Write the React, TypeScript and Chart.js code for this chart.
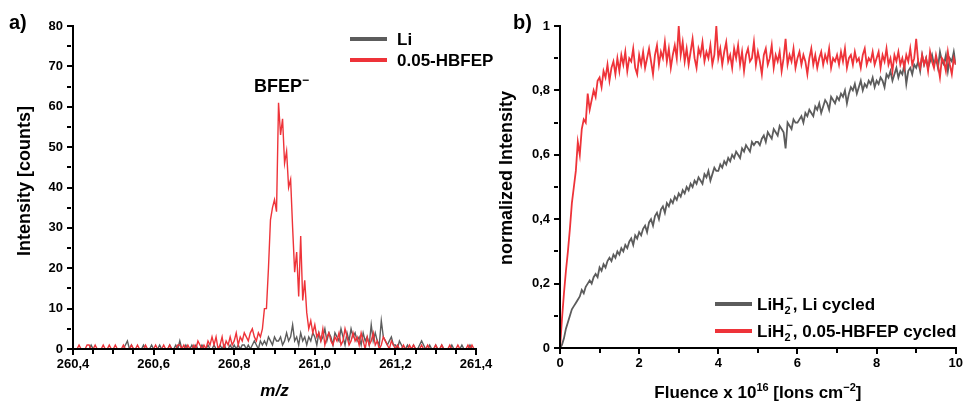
import React, { useEffect, useRef } from 'react';
import { Chart, registerables } from 'chart.js';

Chart.register(...registerables);

const FONT = '"Liberation Sans", Arial, Helvetica, sans-serif';
const RED = '#ee3339';
const GRAY = '#5c5c5c';

// ---------- Panel a) : mass spectrum ----------
const MZ_START = 260.4;
const MZ_STEP = 0.005;

const hbfepCounts = [
  0, 0, 0, 1, 0, 0, 0, 1, 1, 0, 0, 1, 0, 0, 0, 1, 0, 0, 1, 0,
  0, 1, 0, 0, 0, 1, 0, 0, 0, 1, 0, 0, 1, 0, 0, 0, 1, 0, 0, 0,
  0, 1, 0, 0, 0, 1, 0, 0, 1, 0, 0, 0, 1, 1, 0, 1, 0, 1, 0, 0,
  1, 0, 2, 1, 0, 1, 0, 2, 1, 3, 1, 3, 0, 1, 3, 0, 2, 1, 3, 1,
  2, 4, 1, 3, 2, 4, 3, 2, 4, 5, 3, 2, 4, 3, 5,
  10, 10, 20, 32, 35, 37, 34, 61, 53, 57, 46, 49, 40, 42, 30, 19, 24, 13, 28, 12, 17, 9, 5, 7, 4,
  6, 3, 4, 2, 5, 1, 3, 4, 2, 1, 3, 2, 4, 1, 2, 5, 3, 1, 2, 4,
  2, 3, 1, 4, 2, 0, 3, 1, 2, 4, 1, 2, 0, 1, 3, 2, 1, 0, 2, 1,
  0, 1, 0, 0, 1, 0, 0, 1, 0, 1, 0, 0, 0, 1, 0, 0, 1, 0, 0, 0,
  1, 0, 0, 1, 0, 0, 0, 1, 0, 0, 0, 1, 0, 0, 0, 0, 1, 0, 1, 0, 0,
];

const liCounts = [
  0, 0, 0, 0, 0, 0, 0, 0, 0, 1, 0, 0, 0, 0, 0, 0, 0, 0, 0, 0,
  0, 0, 0, 0, 0, 0, 1, 2, 0, 1, 0, 0, 0, 0, 0, 1, 0, 0, 0, 1,
  0, 0, 0, 1, 0, 0, 0, 0, 1, 0, 0, 1, 0, 2, 0, 0, 1, 0, 0, 1,
  0, 1, 0, 0, 1, 0, 0, 1, 0, 0, 1, 0, 0, 1, 0, 1, 0, 0, 1, 0,
  1, 0, 1, 0, 1, 1, 0, 1, 0, 1, 2, 1, 0, 2, 1,
  2, 1, 3, 2, 1, 3, 2, 2, 3, 1, 2, 4, 2, 3, 6, 2, 3, 1, 4, 2, 3, 1, 3, 2, 4,
  3, 1, 4, 2, 3, 5, 2, 4, 3, 1, 4, 3, 2, 5, 3, 1, 4, 2, 5, 3,
  4, 2, 3, 1, 4, 2, 3, 1, 6, 2, 4, 2, 1, 7, 3, 2, 1, 2, 3, 1,
  1, 0, 2, 1, 0, 0, 1, 0, 0, 1, 0, 0, 1, 2, 1, 0, 0, 1, 0, 0,
  1, 0, 0, 1, 0, 0, 0, 0, 1, 0, 0, 0, 0, 1, 0, 0, 0, 1, 0, 0, 0,
];

// ---------- Panel b) : fluence dependence ----------
const FL_START = 0;
const FL_STEP = 0.05;

const hbfepCycled = [
  0, 0.09, 0.17, 0.24, 0.30, 0.37, 0.45, 0.50, 0.55, 0.64, 0.60, 0.68, 0.71, 0.70, 0.79, 0.74, 0.77, 0.80, 0.78, 0.83,
  0.84, 0.81, 0.86, 0.84, 0.88, 0.83, 0.87, 0.89, 0.85, 0.90, 0.86, 0.91, 0.88, 0.92, 0.86, 0.90, 0.89, 0.93, 0.87, 0.85,
  0.91, 0.88, 0.92, 0.87, 0.90, 0.93, 0.89, 0.85, 0.91, 0.94, 0.88, 0.92, 0.90, 0.95, 0.89, 0.93, 0.87, 0.91, 0.94, 0.90,
  1.00, 0.91, 0.95, 0.89, 0.93, 0.88, 0.92, 0.96, 0.90, 0.87, 0.93, 0.91, 0.95, 0.89, 0.92, 0.90, 0.94, 0.88, 0.91, 1.00,
  0.90, 0.93, 0.88, 0.92, 0.95, 0.89, 0.91, 0.87, 0.93, 0.90, 0.94, 0.88, 0.92, 0.86, 0.91, 0.93, 0.89, 0.90, 0.95, 0.88,
  0.92, 0.89, 0.85, 0.91, 0.93, 0.88, 0.90, 0.94, 0.87, 0.91, 0.89, 0.92, 0.86, 0.90, 0.96, 0.88, 0.91, 0.89, 0.93, 0.87,
  0.90, 0.92, 0.88, 0.91, 0.89, 0.85, 0.90, 0.93, 0.88, 0.91, 0.87, 0.90, 0.92, 0.88, 0.91, 0.89, 0.93, 0.87, 0.90, 0.89,
  0.91, 0.88, 0.92, 0.89, 0.93, 0.87, 0.90, 0.91, 0.88, 0.92, 0.89, 0.90, 0.87, 0.91, 0.93, 0.88, 0.90, 0.89, 0.92, 0.88,
  0.90, 0.92, 0.87, 0.91, 0.89, 0.93, 0.88, 0.90, 0.86, 0.91, 0.89, 0.92, 0.88, 0.90, 0.87, 0.91, 0.89, 0.93, 0.88, 0.90,
  0.96, 0.89, 0.87, 0.91, 0.88, 0.90, 0.86, 0.92, 0.89, 0.87, 0.91, 0.88, 0.84, 0.90, 0.89, 0.86, 0.92, 0.88, 0.85, 0.90, 0.88,
];

const liCycled = [
  0, 0.01, 0.03, 0.06, 0.08, 0.10, 0.12, 0.13, 0.14, 0.15, 0.16, 0.18, 0.17, 0.19, 0.20, 0.21, 0.20, 0.22, 0.23, 0.22,
  0.25, 0.24, 0.26, 0.25, 0.27, 0.28, 0.27, 0.29, 0.28, 0.30, 0.29, 0.31, 0.30, 0.32, 0.31, 0.33, 0.34, 0.32, 0.35, 0.34,
  0.36, 0.35, 0.37, 0.38, 0.36, 0.39, 0.40, 0.38, 0.41, 0.42, 0.40, 0.43, 0.44, 0.42, 0.45, 0.44, 0.46, 0.45, 0.47, 0.46,
  0.48, 0.47, 0.49, 0.48, 0.50, 0.49, 0.51, 0.50, 0.52, 0.51, 0.53, 0.52, 0.51, 0.54, 0.53, 0.55, 0.52, 0.54, 0.56, 0.55,
  0.55, 0.57, 0.56, 0.58, 0.57, 0.59, 0.58, 0.60, 0.59, 0.61, 0.60, 0.59, 0.62, 0.61, 0.63, 0.62, 0.61, 0.64, 0.63, 0.64,
  0.64, 0.63, 0.65, 0.66, 0.64, 0.67, 0.66, 0.65, 0.68, 0.67, 0.66, 0.69, 0.68, 0.67, 0.62, 0.70, 0.69, 0.68, 0.71, 0.70,
  0.70, 0.71, 0.72, 0.70, 0.73, 0.72, 0.74, 0.73, 0.72, 0.75, 0.74, 0.76, 0.73, 0.75, 0.77, 0.76, 0.74, 0.78, 0.77, 0.76,
  0.78, 0.77, 0.79, 0.78, 0.80, 0.76, 0.79, 0.81, 0.80, 0.82, 0.79, 0.81, 0.83, 0.80, 0.82, 0.81, 0.83, 0.82, 0.84, 0.81,
  0.83, 0.82, 0.84, 0.83, 0.81, 0.85, 0.84, 0.86, 0.83, 0.85, 0.87, 0.84, 0.86, 0.85, 0.88, 0.82, 0.86, 0.87, 0.85, 0.88,
  0.87, 0.89, 0.86, 0.91, 0.88, 0.90, 0.87, 0.89, 0.91, 0.88, 0.90, 0.87, 0.92, 0.89, 0.88, 0.91, 0.86, 0.90, 0.89, 0.92, 0.88,
];

const toPoints = (start: number, step: number, ys: number[]) =>
  ys.map((y, i) => ({ x: +(start + i * step).toFixed(4), y }));

const comma = (v: number, digits: number) => v.toFixed(digits).replace('.', ',');
const isMult = (v: number, m: number) => Math.abs(v / m - Math.round(v / m)) < 1e-6;

function textBold(ctx: CanvasRenderingContext2D, size: number, italic = false) {
  ctx.font = `${italic ? 'italic ' : ''}bold ${size}px ${FONT}`;
}

// solid black axis lines along the left and bottom of the plot area
const axisLinePlugin = {
  id: 'axisLines',
  afterDraw(chart: any) {
    const ctx: CanvasRenderingContext2D = chart.ctx;
    const a = chart.chartArea;
    ctx.save();
    ctx.fillStyle = '#000';
    const l = Math.round(a.left);
    const b = Math.round(a.bottom);
    ctx.fillRect(l - 1, Math.round(a.top), 2, b - Math.round(a.top) + 1);
    ctx.fillRect(l - 1, b - 1, Math.round(a.right) - l + 2, 2);
    ctx.restore();
  },
};

const panelAPlugin = {
  id: 'panelA',
  afterDraw(chart: any) {
    const ctx: CanvasRenderingContext2D = chart.ctx;
    const { left, right } = chart.chartArea;
    ctx.save();
    ctx.fillStyle = '#000';
    textBold(ctx, 20);
    ctx.textBaseline = 'alphabetic';
    ctx.textAlign = 'left';
    ctx.fillText('a)', 9, 29);
    ctx.save();
    ctx.translate(25, 181);
    ctx.rotate(-Math.PI / 2);
    textBold(ctx, 18);
    ctx.textAlign = 'center';
    ctx.textBaseline = 'middle';
    ctx.fillText('Intensity [counts]', 0, 0);
    ctx.restore();
    textBold(ctx, 17, true);
    ctx.textAlign = 'center';
    ctx.textBaseline = 'alphabetic';
    ctx.fillText('m/z', (left + right) / 2, 396);
    textBold(ctx, 18);
    ctx.textAlign = 'left';
    ctx.fillText('BFEP', 254, 92);
    const w = ctx.measureText('BFEP').width;
    textBold(ctx, 12);
    ctx.fillText('\u2212', 254 + w, 84);
    const legend = [
      { color: GRAY, label: 'Li', y: 39 },
      { color: RED, label: '0.05-HBFEP', y: 60 },
    ];
    for (const item of legend) {
      ctx.strokeStyle = item.color;
      ctx.lineWidth = 4;
      ctx.beginPath();
      ctx.moveTo(350, item.y);
      ctx.lineTo(387, item.y);
      ctx.stroke();
      textBold(ctx, 17);
      ctx.textBaseline = 'middle';
      ctx.fillText(item.label, 397, item.y + 1);
    }
    ctx.restore();
  },
};

const B_OFFSET = 495;

const panelBPlugin = {
  id: 'panelB',
  afterDraw(chart: any) {
    const ctx: CanvasRenderingContext2D = chart.ctx;
    const { left, right } = chart.chartArea;
    const o = B_OFFSET;
    ctx.save();
    ctx.fillStyle = '#000';
    textBold(ctx, 20);
    ctx.textAlign = 'left';
    ctx.textBaseline = 'alphabetic';
    ctx.fillText('b)', 513 - o, 29);
    ctx.save();
    ctx.translate(507 - o, 178);
    ctx.rotate(-Math.PI / 2);
    textBold(ctx, 18);
    ctx.textAlign = 'center';
    ctx.textBaseline = 'middle';
    ctx.fillText('normalized Intensity', 0, 0);
    ctx.restore();
    const parts: { t: string; size: number; dy: number }[] = [
      { t: 'Fluence x 10', size: 17, dy: 0 },
      { t: '16', size: 11, dy: -7 },
      { t: ' [Ions cm', size: 17, dy: 0 },
      { t: '\u22122', size: 11, dy: -7 },
      { t: ']', size: 17, dy: 0 },
    ];
    let total = 0;
    for (const p of parts) {
      textBold(ctx, p.size);
      total += ctx.measureText(p.t).width;
    }
    let x = (left + right) / 2 - total / 2;
    ctx.textAlign = 'left';
    ctx.textBaseline = 'alphabetic';
    for (const p of parts) {
      textBold(ctx, p.size);
      ctx.fillText(p.t, x, 398 + p.dy);
      x += ctx.measureText(p.t).width;
    }
    const legend = [
      { color: GRAY, rest: ', Li cycled', y: 304 },
      { color: RED, rest: ', 0.05-HBFEP cycled', y: 331 },
    ];
    for (const item of legend) {
      ctx.strokeStyle = item.color;
      ctx.lineWidth = 4;
      ctx.beginPath();
      ctx.moveTo(715 - o, item.y);
      ctx.lineTo(752 - o, item.y);
      ctx.stroke();
      let tx = 757 - o;
      const base = item.y + 6;
      textBold(ctx, 17);
      ctx.fillText('LiH', tx, base);
      tx += ctx.measureText('LiH').width;
      textBold(ctx, 11);
      ctx.fillText('2', tx, base + 4);
      const w2 = ctx.measureText('2').width;
      ctx.fillText('\u2212', tx + 2, base - 8);
      const wm = ctx.measureText('\u2212').width;
      tx += Math.max(w2, wm + 2);
      textBold(ctx, 17);
      ctx.fillText(item.rest, tx, base);
    }
    ctx.restore();
  },
};

// built-in axis line + ticks every minor step; labels only at major steps
function axisScale(min: number, max: number, minorStep: number, majorStep: number, fmt: (v: number) => string, padding: number, fitSize: number, horizontal: boolean) {
  const isMajor = (v: number) => isMult(v - min, majorStep);
  return {
    type: 'linear',
    min,
    max,
    afterFit: (scale: any) => {
      if (horizontal) scale.height = fitSize;
      else scale.width = fitSize;
    },
    ticks: {
      stepSize: minorStep,
      autoSkip: false,
      maxRotation: 0,
      minRotation: 0,
      padding,
      color: '#000',
      font: { family: FONT, size: 13, weight: 'bold' },
      callback: (v: any) => {
        const n = Number(v);
        return isMajor(n) ? fmt(n) : '';
      },
    },
    grid: {
      display: true,
      drawOnChartArea: false,
      drawTicks: true,
      tickLength: 6,
      tickWidth: 2,
      tickColor: '#000',
      tickBorderDash: (c: any) => (c && c.tick && !isMajor(Number(c.tick.value)) ? [4, 20] : []),
      color: '#000',
      lineWidth: 0,
    },
    border: { display: true, color: '#000', width: 2 },
    title: { display: false },
  };
}

function PanelA() {
  const ref = useRef<HTMLCanvasElement>(null);
  useEffect(() => {
    if (!ref.current) return;
    const chart = new Chart(ref.current, {
      type: 'line',
      data: {
        datasets: [
          {
            label: '0.05-HBFEP',
            data: toPoints(MZ_START, MZ_STEP, hbfepCounts),
            borderColor: RED,
            borderWidth: 1.4,
            pointRadius: 0,
            tension: 0,
          },
          {
            label: 'Li',
            data: toPoints(MZ_START, MZ_STEP, liCounts),
            borderColor: GRAY,
            borderWidth: 1.4,
            pointRadius: 0,
            tension: 0,
          },
        ],
      },
      options: {
        responsive: false,
        animation: false,
        devicePixelRatio: 1,
        layout: { padding: { top: 26, left: 0, right: 19, bottom: 0 } },
        plugins: { legend: { display: false }, tooltip: { enabled: false } },
        scales: {
          x: axisScale(260.4, 261.4, 0.05, 0.2, (v) => comma(v, 1), 2, 53, true) as any,
          y: axisScale(0, 80, 5, 10, (v) => String(v), 4, 73, false) as any,
        },
      },
      plugins: [axisLinePlugin, panelAPlugin],
    });
    return () => chart.destroy();
  }, []);
  return <canvas ref={ref} width={495} height={402} style={{ position: 'absolute', left: 0, top: 0, width: 495, height: 402 }} />;
}

function PanelB() {
  const ref = useRef<HTMLCanvasElement>(null);
  useEffect(() => {
    if (!ref.current) return;
    const chart = new Chart(ref.current, {
      type: 'line',
      data: {
        datasets: [
          {
            label: 'LiH2-, 0.05-HBFEP cycled',
            data: toPoints(FL_START, FL_STEP, hbfepCycled),
            borderColor: RED,
            borderWidth: 1.8,
            pointRadius: 0,
            tension: 0,
          },
          {
            label: 'LiH2-, Li cycled',
            data: toPoints(FL_START, FL_STEP, liCycled),
            borderColor: GRAY,
            borderWidth: 1.8,
            pointRadius: 0,
            tension: 0,
          },
        ],
      },
      options: {
        responsive: false,
        animation: false,
        devicePixelRatio: 1,
        layout: { padding: { top: 26, left: 0, right: 7, bottom: 0 } },
        plugins: { legend: { display: false }, tooltip: { enabled: false } },
        scales: {
          x: axisScale(0, 10, 1, 2, (v) => String(v), 2, 54, true) as any,
          y: axisScale(0, 1, 0.1, 0.2, (v) => (isMult(v, 1) ? String(Math.round(v)) : comma(v, 1)), 4, 65, false) as any,
        },
      },
      plugins: [axisLinePlugin, panelBPlugin],
    });
    return () => chart.destroy();
  }, []);
  return <canvas ref={ref} width={470} height={402} style={{ position: 'absolute', left: B_OFFSET, top: 0, width: 470, height: 402 }} />;
}

export default function App() {
  return (
    <div style={{ position: 'absolute', left: 0, top: 0, width: 965, height: 402, background: '#fff', overflow: 'hidden' }}>
      <PanelA />
      <PanelB />
    </div>
  );
}

void React;
